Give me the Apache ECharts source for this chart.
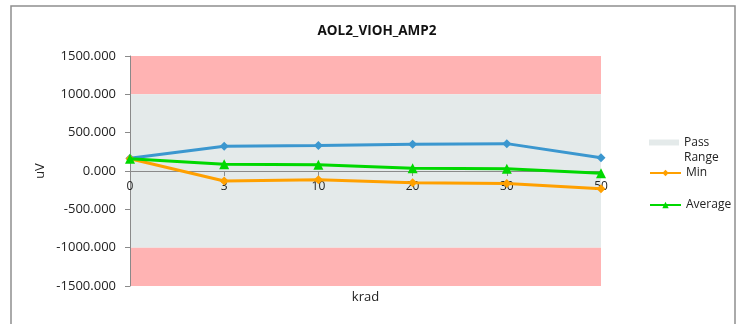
<!DOCTYPE html>
<html>
<head>
<meta charset="utf-8">
<script src="https://cdn.jsdelivr.net/npm/echarts@6/dist/echarts.min.js"></script>
<style>
  html, body { margin: 0; padding: 0; background: #fff; }
  #chart { width: 742px; height: 324px; }
</style>
</head>
<body>
<div id="chart"></div>
<script>
// Radiation dose steps (krad) and measured offsets (uV)
const categories = ['0', '3', '10', '20', '30', '50'];
const maxValues = [165, 323, 331, 349, 357, 174];
const minValues = [160, -131, -114, -153, -162, -232];
const avgValues = [160, 88, 83, 35, 30, -30];

// Limits: pass range between -1000 and 1000, fail beyond
const passLow = -1000;
const passHigh = 1000;
const axisMin = -1500;
const axisMax = 1500;

const FONT = '"Open Sans", "Liberation Sans", sans-serif';
const GRID_TOP = 56;
const GRID_BOTTOM = 38;
const chart = echarts.init(document.getElementById('chart'));

// The category axis sits on the zero line of the value axis
const plotHeight = 324 - GRID_TOP - GRID_BOTTOM;
const zeroLift = plotHeight * (0 - axisMin) / (axisMax - axisMin);

chart.setOption({
  animation: false,
  textStyle: { fontFamily: FONT },
  title: {
    text: 'AOL2_VIOH_AMP2',
    left: 377,
    top: 24,
    padding: 0,
    textAlign: 'center',
    textStyle: { fontFamily: FONT, fontSize: 13.5, fontWeight: 'bold', color: '#111' }
  },
  graphic: [{
    type: 'rect',
    shape: { x: 11, y: 6, width: 724, height: 330 },
    style: { fill: 'none', stroke: '#8e8e8e', lineWidth: 1.5 },
    silent: true
  }],
  legend: [{
    data: [{ name: 'Pass Range', icon: 'rect' }],
    left: 649,
    top: 120,
    padding: 0,
    itemWidth: 30,
    itemHeight: 6,
    textStyle: { fontFamily: FONT, fontSize: 12, color: '#222', lineHeight: 15 },
    // blank first line keeps the swatch level with "Pass"
    formatter: function () { return ' \nPass\nRange'; }
  }, {
    data: ['Min', 'Average'],
    orient: 'vertical',
    left: 649,
    top: 167,
    padding: 0,
    itemWidth: 31,
    itemHeight: 8,
    itemGap: 20,
    textStyle: { fontFamily: FONT, fontSize: 12, color: '#222' }
  }],
  grid: { left: 130, right: 141, top: GRID_TOP, bottom: GRID_BOTTOM, outerBoundsMode: 'none', containLabel: false },
  xAxis: {
    type: 'category',
    data: categories,
    boundaryGap: false,
    offset: -zeroLift,
    z: 5,
    name: 'krad',
    nameLocation: 'middle',
    nameGap: 120,
    nameMoveOverlap: false,
    nameTextStyle: { fontFamily: FONT, fontSize: 13, color: '#222' },
    axisLine: { onZero: false, lineStyle: { color: '#8a8a8a', width: 1 } },
    axisTick: { show: true, length: 5, lineStyle: { color: '#8a8a8a' } },
    axisLabel: { fontFamily: FONT, fontSize: 12, color: '#222', margin: 10 },
    splitLine: { show: false }
  },
  yAxis: {
    type: 'value',
    min: axisMin,
    max: axisMax,
    interval: 500,
    z: 5,
    name: 'uV',
    nameLocation: 'middle',
    nameGap: 83,
    nameMoveOverlap: false,
    nameTextStyle: { fontFamily: FONT, fontSize: 13, color: '#222' },
    axisLine: { show: true, lineStyle: { color: '#8a8a8a', width: 1 } },
    axisTick: { show: true, length: 5, lineStyle: { color: '#8a8a8a' } },
    axisLabel: {
      fontFamily: FONT, fontSize: 13, color: '#222', margin: 14,
      formatter: function (v) { return v.toFixed(3); }
    },
    splitLine: { show: false }
  },
  series: [{
    name: 'Pass Range',
    type: 'line',
    data: categories.map(function () { return null; }),
    itemStyle: { color: '#e4eaea' },
    lineStyle: { width: 0 },
    showSymbol: false,
    z: 0,
    markArea: {
      silent: true,
      data: [
        [{ yAxis: passHigh, itemStyle: { color: '#ffb3b3' } }, { yAxis: axisMax }],
        [{ yAxis: passLow, itemStyle: { color: '#e4eaea' } }, { yAxis: passHigh }],
        [{ yAxis: axisMin, itemStyle: { color: '#ffb3b3' } }, { yAxis: passLow }]
      ]
    }
  }, {
    name: 'Max',
    type: 'line',
    data: maxValues,
    symbol: 'diamond',
    symbolSize: 9,
    lineStyle: { width: 3, color: '#3b97cf' },
    itemStyle: { color: '#3b97cf' },
    z: 6
  }, {
    name: 'Min',
    type: 'line',
    data: minValues,
    symbol: 'diamond',
    symbolSize: 9,
    lineStyle: { width: 3, color: '#ffa000' },
    itemStyle: { color: '#ffa000' },
    z: 6
  }, {
    name: 'Average',
    type: 'line',
    data: avgValues,
    symbol: 'triangle',
    symbolSize: 10,
    lineStyle: { width: 3, color: '#00d800' },
    itemStyle: { color: '#00d800' },
    z: 7
  }]
});
</script>
</body>
</html>
